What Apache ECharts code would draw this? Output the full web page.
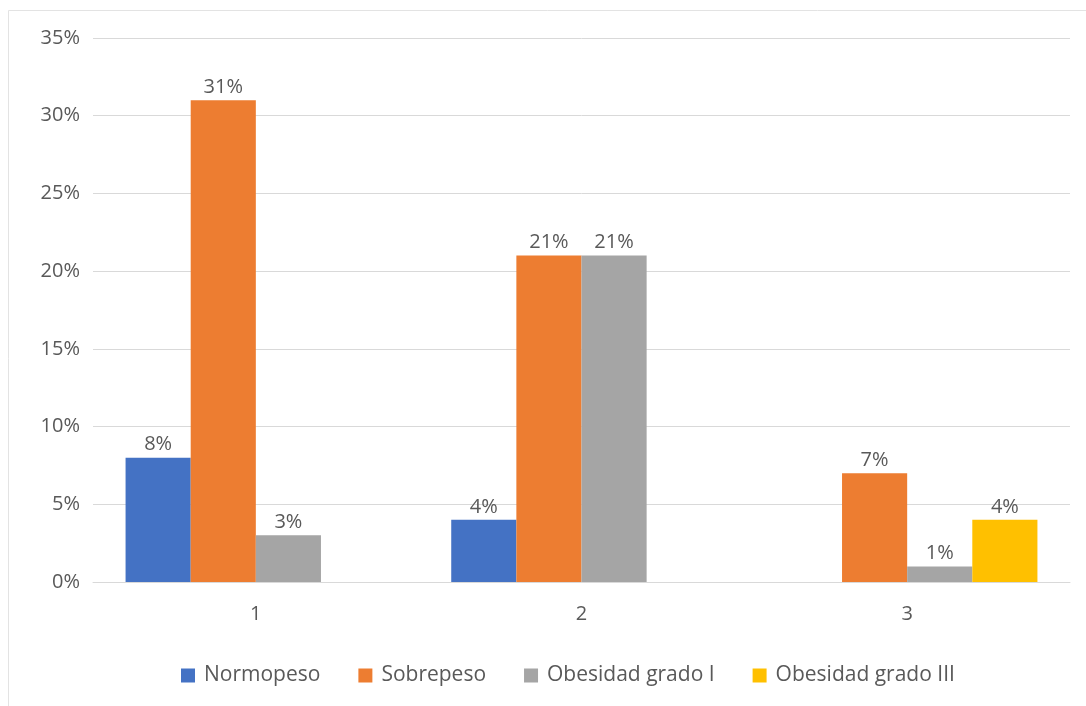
<!DOCTYPE html>
<html>
<head>
<meta charset="utf-8">
<script src="https://cdn.jsdelivr.net/npm/echarts@6/dist/echarts.min.js"></script>
<style>html,body{margin:0;padding:0;background:#fff}#c{width:1086px;height:706px}</style>
</head>
<body>
<div id="c"></div>
<script>
var categories = ['1', '2', '3'];
var seriesNames = ['Normopeso', 'Sobrepeso', 'Obesidad grado I', 'Obesidad grado III'];
var normopeso = [8, 4, null];
var sobrepeso = [31, 21, 7];
var obesidadI = [3, 21, 1];
var obesidadIII = [null, null, 4];
var yTicks = [0, 5, 10, 15, 20, 25, 30, 35];
var colors = ['#4472C4', '#ED7D31', '#A5A5A5', '#FFC000'];

var font = '"Open Sans", "Noto Sans", sans-serif';
var chart = echarts.init(document.getElementById('c'), null, {renderer: 'canvas'});
function mk(name, data, color) {
  return {
    name: name, type: 'bar', data: data,
    barGap: '0%', barCategoryGap: '20%',
    itemStyle: {color: color},
    label: {show: true, position: 'top', distance: 3, formatter: '{c}%', color: '#595959', fontSize: 20, fontFamily: font},
    emphasis: {disabled: true}
  };
}
chart.setOption({
  animation: false,
  textStyle: {fontFamily: font},
  graphic: [{
    type: 'rect', shape: {x: 8.5, y: 10.5, width: 1090, height: 700},
    style: {fill: 'none', stroke: '#e3e3e3', lineWidth: 1}, silent: true
  }],
  grid: {left: 93, right: 16, top: 38, bottom: 124, containLabel: false},
  legend: {
    top: 660, left: 176, itemWidth: 14, itemHeight: 14, itemGap: 38,
    icon: 'rect',
    textStyle: {color: '#595959', fontSize: 21, fontFamily: font, padding: [0, 0, 0, 4]},
    data: seriesNames
  },
  xAxis: {
    type: 'category', data: categories,
    axisLine: {lineStyle: {color: '#d9d9d9', width: 1}},
    axisTick: {show: false},
    axisLabel: {color: '#595959', fontSize: 20, margin: 22, fontFamily: font}
  },
  yAxis: {
    type: 'value', min: yTicks[0], max: yTicks[yTicks.length - 1], interval: 5,
    axisLine: {show: false}, axisTick: {show: false},
    splitLine: {lineStyle: {color: '#d9d9d9', width: 1}},
    axisLabel: {color: '#595959', fontSize: 20, margin: 13, formatter: '{value}%', fontFamily: font}
  },
  series: [
    mk(seriesNames[0], normopeso, colors[0]),
    mk(seriesNames[1], sobrepeso, colors[1]),
    mk(seriesNames[2], obesidadI, colors[2]),
    mk(seriesNames[3], obesidadIII, colors[3])
  ]
});
</script>
</body>
</html>
